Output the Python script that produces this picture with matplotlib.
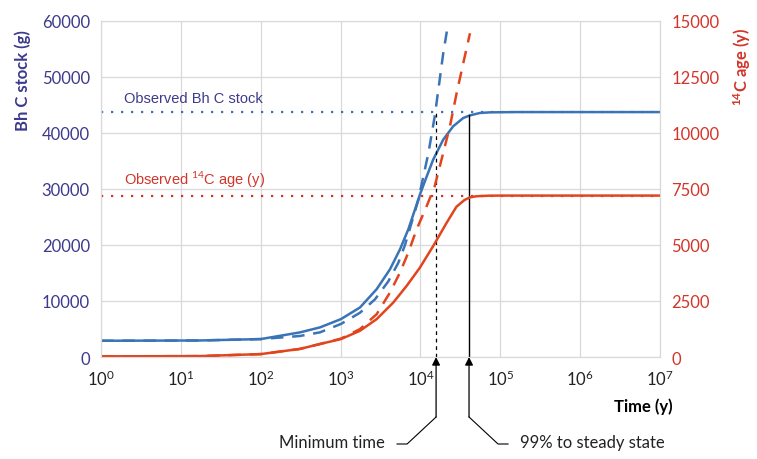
import numpy as np
import matplotlib
matplotlib.use("Agg")
import matplotlib.pyplot as plt
from matplotlib.lines import Line2D

plt.rcParams.update({"font.family": ["Lato", "DejaVu Sans"], "font.size": 11,
                     "mathtext.fontset": "custom", "mathtext.rm": "Lato",
                     "mathtext.it": "Lato", "mathtext.bf": "Lato:bold"})

AZUL = "#3a74b6"; ROJO = "#e2451e"; NAVY = "#3d3a8c"; ROJO_T = "#d2352a"

# Bh C stock (g), modelo completo y minimo
t_stock = [1, 17, 100, 309, 552, 1010, 1750, 2830, 4160, 5550, 7050, 8550, 9860, 11970, 14450,
           19300, 25700, 34400, 41700, 55600, 74100, 158000, 1e7]
stock = [2900, 2950, 3200, 4390, 5285, 6760, 8840, 12100, 15660, 19220, 22780, 26330, 29000, 32200, 35230,
         38790, 41160, 42650, 43110, 43540, 43650, 43700, 43700]
t_stock_min = [1, 17, 100, 309, 552, 1010, 1750, 2700, 3960, 5280, 6410, 7760, 9400, 12600, 15100,
               17200, 19300, 21400]
stock_min = [2900, 2950, 3200, 3750, 4400, 5900, 7900, 10300, 13500, 16800, 20000, 24000, 28000, 36430, 42940,
             48880, 54220, 58070]

# edad 14C (y)
t_age = [1, 17, 100, 309, 552, 1010, 1750, 2830, 4570, 6710, 9860, 14450, 21300, 28200, 35500,
         41700, 50100, 70800, 1e5, 1e7]
age = [30, 40, 130, 360, 580, 800, 1170, 1690, 2430, 3170, 3990, 4950, 5990, 6700, 7000,
       7120, 7170, 7195, 7200, 7200]
t_age_min = [1, 17, 100, 309, 552, 1010, 1750, 2830, 4160, 5550, 7050, 8950, 11970, 15100, 19300,
             23400, 28400, 34400, 41700]
age_min = [30, 40, 130, 360, 580, 820, 1245, 1910, 2880, 3770, 4660, 5690, 6730, 7620, 9110,
           10290, 11770, 13110, 14440]

obs_stock = 43700
obs_age = 7190
t_minimo = 15700
t_99 = 40600

fig = plt.figure(figsize=(7.57, 4.60), dpi=100)
ax = fig.add_axes([0.1334, 0.2217, 0.7385, 0.7311])
ax2 = ax.twinx()

ax.set_xscale("log")
ax.set_xlim(1, 1e7); ax.set_ylim(0, 60000)
ax2.set_ylim(0, 15000)
ax.set_xticks([10.0**k for k in range(8)])
ax.set_xticklabels([rf"$10^{{{k}}}$" for k in range(8)])
ax.xaxis.set_minor_locator(matplotlib.ticker.NullLocator())
ax.set_yticks(range(0, 60001, 10000))
ax2.set_yticks(range(0, 15001, 2500))
ax.grid(True, color="#d9d9d9", lw=0.9)
ax.set_axisbelow(True)
for a in (ax, ax2):
    for s in a.spines.values():
        s.set_color("#d9d9d9")
ax.tick_params(axis="x", length=0, pad=8, labelsize=12, labelcolor="#222222")
ax.tick_params(axis="y", length=0, pad=8, labelsize=12, labelcolor=NAVY)
ax2.tick_params(axis="y", length=0, pad=8, labelsize=12, labelcolor=ROJO_T)

ax.axhline(obs_stock, color=AZUL, ls=(0, (1, 3.5)), lw=1.6)
ax2.axhline(obs_age, color=ROJO_T, ls=(0, (1, 3.5)), lw=1.6)
ax.text(1.95, obs_stock + 1200, "Observed Bh C stock", color=NAVY, fontsize=10.5,
        family="Liberation Sans", va="bottom")
ax2.text(1.95, obs_age + 300, r"Observed $^{14}$C age (y)", color=ROJO_T, fontsize=10.5,
         family="Liberation Sans", va="bottom")

ax.plot(t_stock, stock, color=AZUL, lw=1.8)
ax.plot(t_stock_min, stock_min, color=AZUL, lw=1.8, ls=(0, (5, 3.5)))
ax2.plot(t_age, age, color=ROJO, lw=1.8)
ax2.plot(t_age_min, age_min, color=ROJO, lw=1.8, ls=(0, (5, 3.5)))

ax.plot([t_minimo, t_minimo], [0, obs_stock], color="black", lw=0.9, ls=(0, (3, 3)))
ax.plot([t_99, t_99], [0, 43200], color="black", lw=1.0)

fig.text(23/757, 1-30/460, "Bh C stock (g)", rotation=90, color=NAVY, fontsize=12,
         fontweight="bold", ha="center", va="top")
fig.text(742/757, 1-28/460, r"$^{\mathbf{14}}$C age (y)", rotation=90, color=ROJO_T,
         fontsize=12, fontweight="bold", ha="center", va="top")
fig.text(673/757, 1-407/460, "Time (y)", fontsize=12, fontweight="bold", ha="right", va="center")

# flechas bajo el eje
H = 460
def guia(t, lado, texto):
    x0 = ax.transData.transform((t, 1))[0]
    yb = H - 358
    ax.annotate("", xy=(x0, yb), xycoords="figure pixels", xytext=(x0, H - 418),
                textcoords="figure pixels", annotation_clip=False,
                arrowprops=dict(arrowstyle="-|>", color="black", lw=0.9,
                                shrinkA=0, shrinkB=0, mutation_scale=12))
    xs = [x0, x0 + lado * 29, x0 + lado * 39]
    ys = [H - 418, H - 445, H - 445]
    fig.add_artist(Line2D(np.array(xs) / 757, np.array(ys) / H, color="black", lw=0.8))
    fig.text((x0 + lado * 51) / 757, (H - 443) / H, texto, fontsize=12,
             ha="right" if lado < 0 else "left", va="center", color="#222222")

guia(t_minimo, -1, "Minimum time")
guia(t_99, 1, "99% to steady state")

plt.savefig("out.png", dpi=100)
